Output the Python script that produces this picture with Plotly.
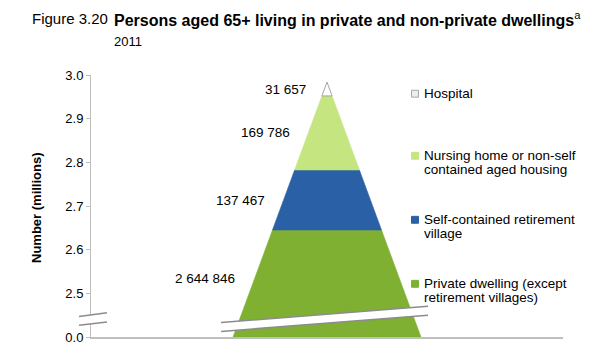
import numpy as np
import plotly.graph_objects as go

# ---- data ----
categories = ["Private dwelling (except retirement villages)",
              "Self-contained retirement village",
              "Nursing home or non-self contained aged housing",
              "Hospital"]
persons = [2644846, 137467, 169786, 31657]
value_labels = ["2 644 846", "137 467", "169 786", "31 657"]
legend_lines = [["Private dwelling (except", "retirement villages)"],
                ["Self-contained retirement", "village"],
                ["Nursing home or non-self", "contained aged housing"],
                ["Hospital"]]
tick_vals = [2.4, 2.5, 2.6, 2.7, 2.8, 2.9, 3.0]
tick_text = ["0.0", "2.5", "2.6", "2.7", "2.8", "2.9", "3.0"]

colors = ["#7FB031", "#2A60A6", "#C4E57F", "#FFFFFF"]
edge_colors = ["#7FB031", "#2A60A6", "#C4E57F", "#A6A6A6"]

FONT = "Arial, 'Liberation Sans', sans-serif"

# page body margin offset (figure is drawn at 8,8 in the page)
OFF = 8
FIG_W, FIG_H = 602 - OFF, 357 - OFF

# plot area in page pixels
L, R, T, B = 91, 563, 75, 341
W, H = R - L, B - T


def px(x):
    return (x - L) / W


def py(y):
    return (B - y) / H


base = tick_vals[0]  # display position of 0 (axis break)
vals_m = np.array(persons) / 1e6
tops = np.cumsum(vals_m)
bottoms = np.concatenate([[base], tops[:-1]])
apex = tops[-1]


def half_width(y):
    return (apex - y) / (apex - base)


fig = go.Figure()
for i, cat in enumerate(categories):
    y0, y1 = bottoms[i], tops[i]
    w0, w1 = half_width(y0), half_width(y1)
    xs = [-w0, w0, w1, -w1, -w0]
    ys = [y0, y0, y1, y1, y0]
    fig.add_trace(go.Scatter(
        x=xs, y=ys, mode="lines", fill="toself",
        fillcolor=colors[i],
        line=dict(color=edge_colors[i], width=1 if i == 3 else 0.5),
        name=cat, showlegend=False, hoverinfo="name"))
    mid = (y0 + y1) / 2
    fig.add_annotation(x=-half_width(mid), y=mid, xref="x", yref="y",
                       text=value_labels[i], showarrow=False,
                       xanchor="right", yanchor="middle", xshift=-16,
                       yshift=5 if i == 0 else 0,
                       font=dict(family=FONT, size=13.5, color="#000000"))

# legend (custom, to match spacing)
legend_y = [287, 222, 157, 94]
for i in range(len(categories)):
    yy = legend_y[i]
    fig.add_shape(type="rect", xref="paper", yref="paper",
                  x0=px(411.5), x1=px(418.5), y0=py(yy + 3.5), y1=py(yy - 3.5),
                  fillcolor=colors[i] if i < 3 else "#EDEDED",
                  line=dict(color="#A6A6A6" if i == 3 else colors[i], width=1))
    for j, line in enumerate(legend_lines[i]):
        fig.add_annotation(x=px(422), y=py(yy + 14 * j), xref="paper", yref="paper",
                           text=line, showarrow=False, xanchor="left",
                           yanchor="middle",
                           font=dict(family=FONT, size=13.5, color="#000000"))

# axis break on y axis
fig.add_shape(type="path", xref="paper", yref="paper",
              path=f"M {px(79)} {py(320.3)} L {px(107)} {py(316.3)} "
                   f"L {px(107)} {py(325.7)} L {px(79)} {py(329)} Z",
              fillcolor="white", line=dict(width=0))
for a, b in [((79, 320.3), (107, 316.3)), ((79, 329), (107, 325.7))]:
    fig.add_shape(type="line", xref="paper", yref="paper",
                  x0=px(a[0]), y0=py(a[1]), x1=px(b[0]), y1=py(b[1]),
                  line=dict(color="#8C8C8C", width=1.5))
# break across the pyramid
fig.add_shape(type="path", xref="paper", yref="paper",
              path=f"M {px(221)} {py(326.3)} L {px(428)} {py(309.7)} "
                   f"L {px(428)} {py(319)} L {px(221)} {py(335.3)} Z",
              fillcolor="white", line=dict(width=0))
for a, b in [((221, 326.3), (428, 309.7)), ((221, 335.3), (428, 319))]:
    fig.add_shape(type="line", xref="paper", yref="paper",
                  x0=px(a[0]), y0=py(a[1]), x1=px(b[0]), y1=py(b[1]),
                  line=dict(color="#8C8C8C", width=1.5))

# titles
fig.add_annotation(x=px(30), y=py(18), xref="paper", yref="paper",
                   text="Figure 3.20", showarrow=False, xanchor="left",
                   yanchor="middle", font=dict(family=FONT, size=15, color="#000"))
fig.add_annotation(x=px(112), y=py(18), xref="paper", yref="paper",
                   text="<b>Persons aged 65+ living in private and non-private dwellings</b><sup>a</sup>",
                   showarrow=False, xanchor="left", yanchor="middle",
                   font=dict(family=FONT, size=16, color="#000"))
fig.add_annotation(x=px(112), y=py(41), xref="paper", yref="paper",
                   text="2011", showarrow=False, xanchor="left",
                   yanchor="middle", font=dict(family=FONT, size=13, color="#000"))
fig.add_annotation(x=px(37), y=py(210), xref="paper", yref="paper",
                   text="<b>Number (millions)</b>", showarrow=False, textangle=-90,
                   xanchor="center", yanchor="middle",
                   font=dict(family=FONT, size=13, color="#000"))

xr = (R - L) / 2 / 94
fig.update_layout(
    width=FIG_W, height=FIG_H,
    margin=dict(l=L - OFF, r=602 - R, t=T - OFF, b=357 - B),
    paper_bgcolor="white", plot_bgcolor="white",
    showlegend=False,
    xaxis=dict(range=[-xr, xr], showgrid=False, zeroline=False,
               showticklabels=False, ticks="", showline=True,
               linecolor="#BFBFBF", linewidth=1.5, fixedrange=True),
    yaxis=dict(range=[tick_vals[0], tick_vals[-1]], tickvals=tick_vals,
               ticktext=tick_text, showgrid=False, zeroline=False,
               showline=True, linecolor="#BFBFBF", linewidth=1,
               ticks="outside", ticklen=4, tickcolor="#BFBFBF",
               tickfont=dict(family=FONT, size=13, color="#000"),
               fixedrange=True),
)

fig.write_html("out.html")
